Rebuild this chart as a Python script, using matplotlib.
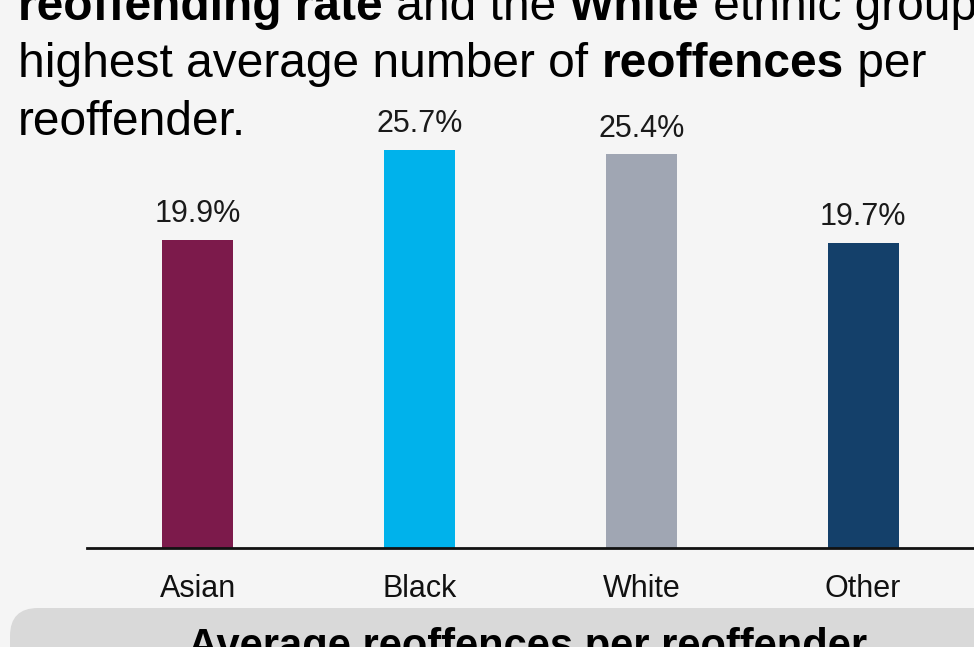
import matplotlib
matplotlib.use('Agg')
import matplotlib.pyplot as plt
from matplotlib.patches import FancyBboxPatch
from matplotlib.transforms import IdentityTransform

plt.rcParams['font.family'] = ['Liberation Sans', 'DejaVu Sans']

# data
groups = ['Asian', 'Black', 'White', 'Other']
rates = [19.9, 25.7, 25.4, 19.7]
labels = ['19.9%', '25.7%', '25.4%', '19.7%']
colours = ['#7c1a4b', '#00b2eb', '#a0a6b3', '#14406a']

title_lines = [
    [('reoffending rate', 'bold'), (' and the ', 'normal'), ('White', 'bold'), (' ethnic group', 'normal')],
    [('highest average number of ', 'normal'), ('reoffences', 'bold'), (' per', 'normal')],
    [('reoffender.', 'normal')],
]
box_title = 'Average reoffences per reoffender'

W, H = 974, 647
bg = '#f5f5f5'
fig = plt.figure(figsize=(W / 100, H / 100), dpi=100, facecolor=bg)

# axes placed in pixel terms: baseline at y=548, 222 px per category
px_per_pct = 15.5
ax = fig.add_axes([87 / W, (H - 548) / H, (W - 87) / W, 448 / H])
ax.set_facecolor(bg)
x = range(len(groups))
bars = ax.bar(x, rates, width=0.32, color=colours, zorder=2)
ax.set_xlim(-0.5, 3.5)
ax.set_ylim(0, 448 / px_per_pct)
for b, lab in zip(bars, labels):
    ax.annotate(lab, (b.get_x() + b.get_width() / 2, b.get_height()),
                xytext=(0, 12.5), textcoords='offset points',
                ha='center', va='baseline', fontsize=22, color='#1a1a1a',
                annotation_clip=False)
for s in ['top', 'right', 'left']:
    ax.spines[s].set_visible(False)
ax.spines['bottom'].set_linewidth(2)
ax.spines['bottom'].set_color('#111111')
ax.set_yticks([])
ax.set_xticks(list(x))
ax.set_xticklabels(groups, fontsize=22, color='#111111')
ax.tick_params(axis='x', length=0, pad=19)

# title with mixed bold, placed piece by piece
r = fig.canvas.get_renderer()


def width_px(s, weight, size):
    t = fig.text(0, 0, s + '|', fontsize=size, fontweight=weight)
    w1 = t.get_window_extent(r).width
    t.remove()
    t = fig.text(0, 0, '|', fontsize=size, fontweight=weight)
    w2 = t.get_window_extent(r).width
    t.remove()
    return w1 - w2


tsize = 34.5
baselines = [20, 77, 135]
for line, yb in zip(title_lines, baselines):
    xp = 18
    for txt, wt in line:
        fig.text(xp / W, 1 - yb / H, txt, fontsize=tsize, fontweight=wt,
                 va='baseline', ha='left', color='black')
        xp += width_px(txt, wt, tsize)

# grey rounded box at the bottom
box = FancyBboxPatch((10, -60), 1000, 60 + (H - 608),
                     boxstyle='round,pad=0,rounding_size=28',
                     transform=IdentityTransform(), facecolor='#d9d9d9',
                     edgecolor='none')
fig.patches.append(box)
fig.text(528 / W, 1 - 658 / H, box_title, fontsize=30, fontweight='bold',
         ha='center', va='baseline', color='black')

fig.savefig('out.png', dpi=100, facecolor=bg)
